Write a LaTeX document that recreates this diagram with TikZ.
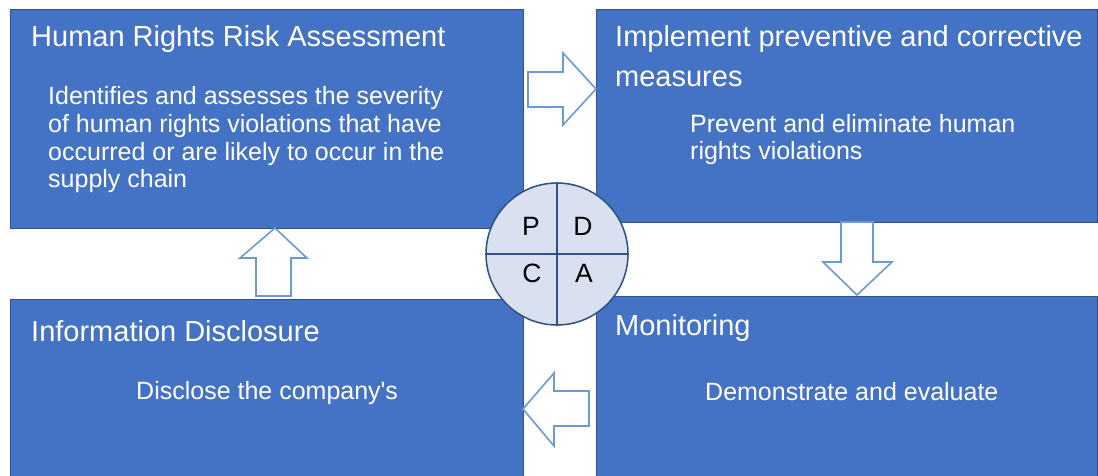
\documentclass[tikz,border=0pt]{standalone}
\usepackage{fontspec}
\setmainfont{Liberation Sans}
\begin{document}
\definecolor{boxblue}{HTML}{4472C4}
\definecolor{boxedge}{HTML}{2F528F}
\definecolor{arrowedge}{HTML}{6A9BD8}
\definecolor{discfill}{HTML}{D9E0F0}
\definecolor{discedge}{HTML}{2F4F86}
\begin{tikzpicture}[x=1pt,y=-1pt,
  panel/.style={draw=boxedge, line width=1pt, fill=boxblue, anchor=north west, inner sep=0pt},
  heading/.style={anchor=base west, inner sep=0pt, text=white, font=\fontsize{29}{34}\selectfont},
  bodytext/.style={anchor=base west, inner sep=0pt, text=white, font=\fontsize{25}{28}\selectfont},
  blockarrow/.style={draw=arrowedge, line width=1.6pt, fill=white, line join=miter},
  letter/.style={anchor=base, inner sep=0pt, text=black, font=\fontsize{26.5}{30}\selectfont}]
\useasboundingbox (0,0) rectangle (1098,475);
\clip (0,0) rectangle (1098,475);
\fill[white] (0,0) rectangle (1098,475);

% four process panels
\node[panel, minimum width=513pt, minimum height=219pt] (assess) at (10,9) {};
\node[panel, minimum width=501pt, minimum height=213pt] (implement) at (596,9) {};
\node[panel, minimum width=501pt, minimum height=190pt] (monitor) at (596,296) {};
\node[panel, minimum width=513pt, minimum height=186pt] (disclose) at (10,299) {};

% panel texts
\node[heading] (t1) at (31,46) {Human Rights Risk Assessment};
\node[bodytext] (b1a) at (48,104) {Identifies and assesses the severity};
\node[bodytext] (b1b) at (48,132) {of human rights violations that have};
\node[bodytext] (b1c) at (48,160) {occurred or are likely to occur in the};
\node[bodytext] (b1d) at (48,187) {supply chain};

\node[heading] (t2a) at (615,46) {Implement preventive and corrective};
\node[heading] (t2b) at (615,86) {measures};
\node[bodytext] (b2a) at (690,132) {Prevent and eliminate human};
\node[bodytext] (b2b) at (690,159) {rights violations};

\node[heading] (t3) at (615,335) {Monitoring};
\node[bodytext] (b3) at (705,400) {Demonstrate and evaluate};

\node[heading] (t4) at (31,341) {Information Disclosure};
\node[bodytext] (b4) at (136,399) {Disclose the company\textquotesingle s};

% outlined block arrows between the panels
\draw[blockarrow] (528,72) -- (563,72) -- (563,53) -- (596,89) -- (563,125) -- (563,107) -- (528,107) -- cycle;
\draw[blockarrow] (841,222) -- (873,222) -- (873,262) -- (892,262) -- (857,295) -- (823,262) -- (841,262) -- cycle;
\draw[blockarrow] (589,391) -- (554,391) -- (554,373) -- (523,409) -- (554,446) -- (554,426) -- (589,426) -- cycle;
\draw[blockarrow] (256,296) -- (256,258) -- (240,258) -- (275,228) -- (307,258) -- (291,258) -- (291,296) -- cycle;

% PDCA disc
\node[circle, draw=discedge, line width=1.5pt, fill=discfill, minimum size=142pt, inner sep=0pt] (pdca) at (557,254) {};
\draw[discedge, line width=1.5pt] (pdca.north) -- (pdca.south);
\draw[discedge, line width=1.5pt] (pdca.west) -- (pdca.east);
\node[letter] (p) at (531,235) {P};
\node[letter] (d) at (583,235) {D};
\node[letter] (c) at (532,282) {C};
\node[letter] (a) at (584,282) {A};
\end{tikzpicture}
\end{document}
